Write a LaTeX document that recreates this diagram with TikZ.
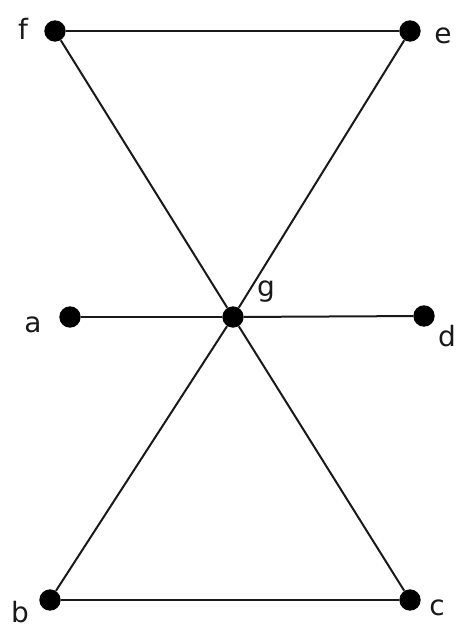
\documentclass[tikz,border=0pt]{standalone}
\usepackage{fontspec}
\setmainfont{DejaVu Sans}
\begin{document}
\begin{tikzpicture}[x=0.75pt,y=-0.75pt,
  vdot/.style={circle,fill=black,inner sep=0pt,minimum size=16pt},
  lbl/.style={inner sep=0pt,font=\fontsize{21pt}{24pt}\selectfont,text=black!90},
  edge/.style={line width=1.5pt,black!90}]
\useasboundingbox (0,0) rectangle (455,631);
\node[vdot] (f) at (55,31) {};
\node[vdot] (e) at (410,31) {};
\node[vdot] (a) at (70,317) {};
\node[vdot] (g) at (233,317) {};
\node[vdot] (d) at (424,316) {};
\node[vdot] (b) at (50,600) {};
\node[vdot] (c) at (410,600) {};
\node[lbl] (lf) at (23,29) {f};
\node[lbl] (le) at (443,36) {e};
\node[lbl] (la) at (33,325) {a};
\node[lbl] (lg) at (266,292) {g};
\node[lbl] (ld) at (447,336) {d};
\node[lbl] (lb) at (20,612) {b};
\node[lbl] (lc) at (437,608) {c};
\draw[edge] (f) -- (e);
\draw[edge] (b) -- (c);
\draw[edge] (a) -- (g);
\draw[edge] (g) -- (d);
\draw[edge] (f) -- (g);
\draw[edge] (g) -- (c);
\draw[edge] (e) -- (g);
\draw[edge] (g) -- (b);
\end{tikzpicture}
\end{document}
